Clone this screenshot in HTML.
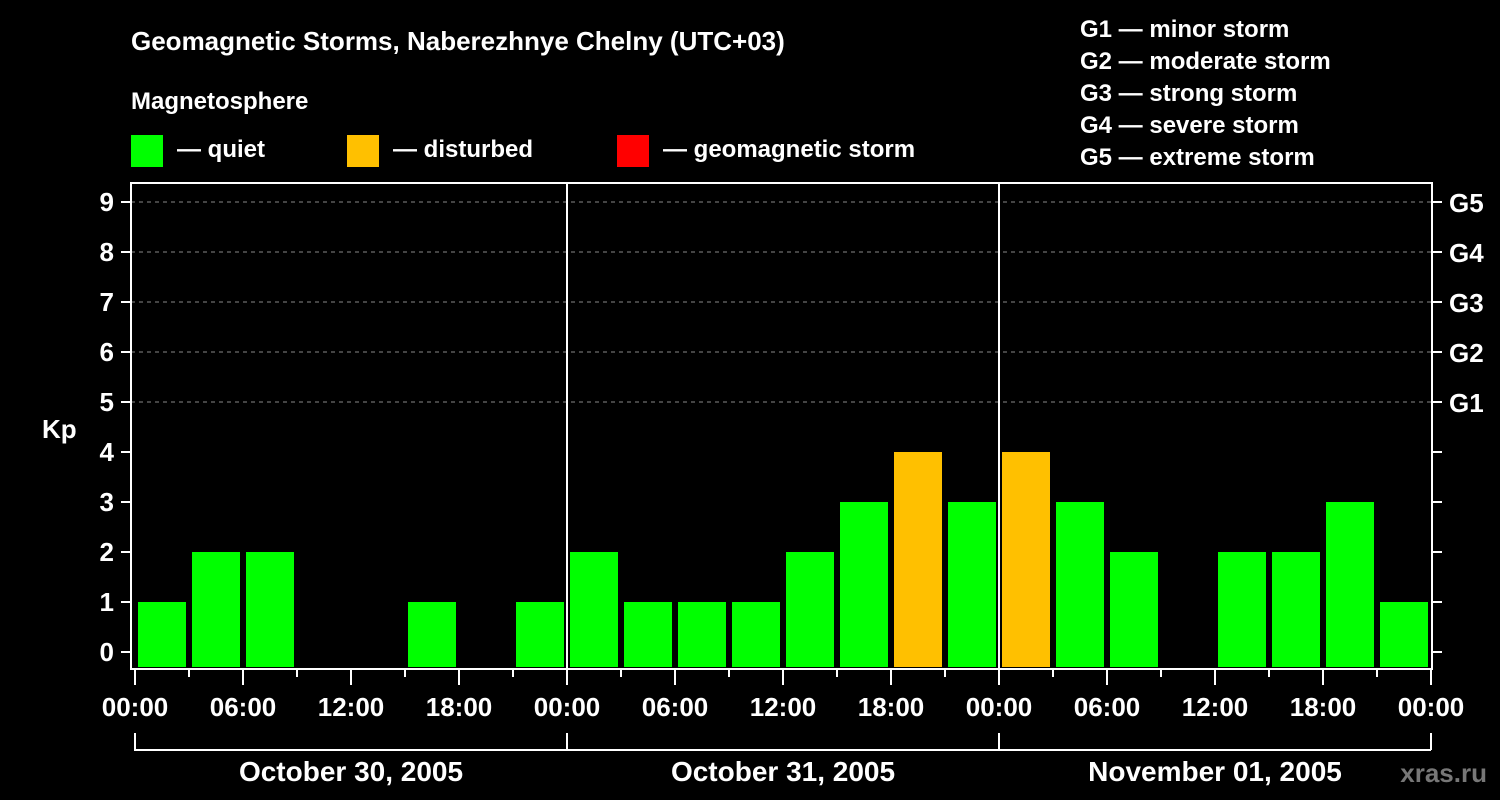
<!DOCTYPE html>
<html><head><meta charset="utf-8"><style>
body{margin:0;background:#000;width:1500px;height:800px;overflow:hidden}
svg{display:block;font-family:"Liberation Sans",sans-serif;font-weight:bold}
</style></head><body>
<svg id="c" width="1500" height="800">
<text x="131" y="50" fill="#fff" font-size="26">Geomagnetic Storms, Naberezhnye Chelny (UTC+03)</text>
<text x="131" y="109" fill="#fff" font-size="24">Magnetosphere</text>
<rect x="131" y="135" width="32" height="32" fill="#00ff00"/>
<text x="177" y="157" fill="#fff" font-size="24">— quiet</text>
<rect x="347" y="135" width="32" height="32" fill="#ffc000"/>
<text x="393" y="157" fill="#fff" font-size="24">— disturbed</text>
<rect x="617" y="135" width="32" height="32" fill="#ff0000"/>
<text x="663" y="157" fill="#fff" font-size="24">— geomagnetic storm</text>
<g fill="#fff" font-size="24">
<text x="1080" y="37">G1 — minor storm</text>
<text x="1080" y="69">G2 — moderate storm</text>
<text x="1080" y="101">G3 — strong storm</text>
<text x="1080" y="133">G4 — severe storm</text>
<text x="1080" y="165">G5 — extreme storm</text>
</g>
<text x="42" y="438" fill="#fff" font-size="26">Kp</text>
<text x="1441" y="782" fill="#777" font-size="26" text-anchor="end" transform="translate(46,0)">xras.ru</text>
<g id="plot"></g>
</svg>
<script>
const days=["October 30, 2005","October 31, 2005","November 01, 2005"];
const kp=[1,2,2,0,0,1,0,1, 2,1,1,1,2,3,4,3, 4,3,2,0,2,2,3,1];
const yTicks=[0,1,2,3,4,5,6,7,8,9];
const gLabels=["G1","G2","G3","G4","G5"];
const hourLabels=["00:00","06:00","12:00","18:00"];
const NS="http://www.w3.org/2000/svg",g=document.getElementById('plot');
const X0=135,HR=18,Y0=652,YU=50,BOT=669,TOP=183,R=1432;
const x=h=>X0+h*HR, y=v=>Y0-v*YU;
function mk(t,a,p){const e=document.createElementNS(NS,t);for(const k in a)e.setAttribute(k,a[k]);(p||g).appendChild(e);return e;}
// grid
for(let v=5;v<=9;v++){const l=mk('line',{x1:131,x2:R,y1:y(v),y2:y(v),stroke:'#888','stroke-dasharray':'4,4'});

}
// bars
kp.forEach((v,i)=>{if(v<=0)return;const c=v>=5?'#ff0000':v>=4?'#ffc000':'#00ff00';
const r=mk('rect',{x:x(i*3)+3,y:y(v),width:48,height:667-y(v),fill:c});

});
// frame
const f=mk('rect',{x:131,y:TOP,width:R-131,height:BOT-TOP,fill:'none',stroke:'#fff','stroke-width':2});


days.forEach((d,i)=>{if(i>0){const l=mk('line',{x1:x(i*24),x2:x(i*24),y1:TOP,y2:BOT,stroke:'#fff','stroke-width':2});

}
const t=mk('text',{x:x(i*24+12),y:781,fill:'#fff','font-size':28,'text-anchor':'middle'});t.textContent=d;


const b=mk('path',{d:`M${x(i*24)} 733V750H${x(i*24+24)}`,stroke:'#fff','stroke-width':2,fill:'none'});

});
mk('line',{x1:x(72),x2:x(72),y1:733,y2:750,stroke:'#fff','stroke-width':2});
// y ticks
yTicks.forEach(v=>{mk('line',{x1:121,x2:131,y1:y(v),y2:y(v),stroke:'#fff','stroke-width':2});
mk('line',{x1:R,x2:R+10,y1:y(v),y2:y(v),stroke:'#fff','stroke-width':2});
const t=mk('text',{x:114,y:y(v)+9,fill:'#fff','font-size':26,'text-anchor':'end'});t.textContent=v;

});
gLabels.forEach((s,i)=>{const t=mk('text',{x:1449,y:y(5+i)+10,fill:'#fff','font-size':26});t.textContent=s;

});
// x ticks
for(let h=0;h<=72;h+=3){const maj=h%6==0;mk('line',{x1:x(h),x2:x(h),y1:BOT,y2:maj?685:677,stroke:'#fff','stroke-width':2});
if(maj){const t=mk('text',{x:x(h),y:716,fill:'#fff','font-size':26,'text-anchor':'middle'});t.textContent=hourLabels[(h/6)%4];

}}
</script>
</body></html>
